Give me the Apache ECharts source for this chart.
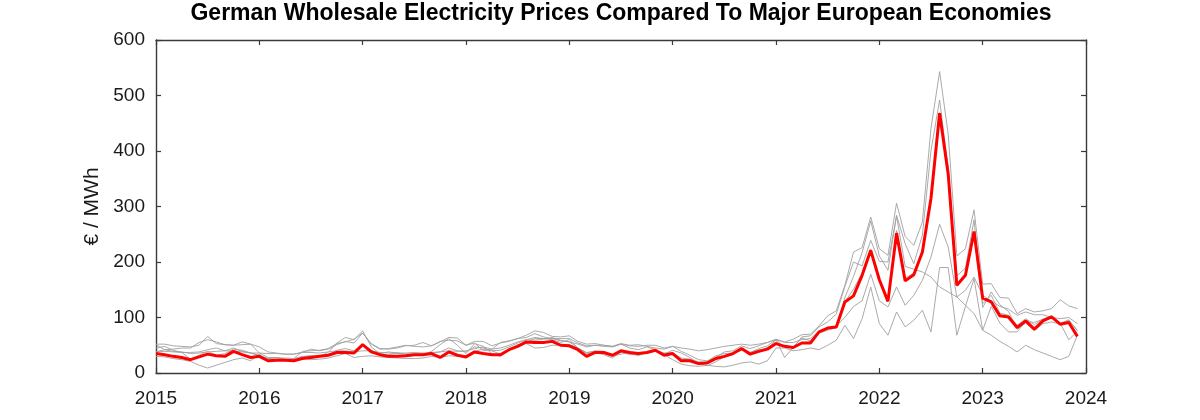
<!DOCTYPE html>
<html>
<head>
<meta charset="utf-8">
<script src="https://cdn.jsdelivr.net/npm/echarts@6/dist/echarts.min.js"></script>
<style>
  html, body { margin: 0; padding: 0; background: #fff; }
  #chart { width: 1200px; height: 420px; }
</style>
</head>
<body>
<div id="chart"></div>
<script>
// ---- Data (monthly averages, EUR/MWh, Jan 2015 .. Dec 2023) ----
const firstYear = 2015;
const lastYear = 2024;
const yearTicks = [2015, 2016, 2017, 2018, 2019, 2020, 2021, 2022, 2023, 2024];

const germany = [
  35,33,30,28,24,29,34,31,30,39,33,28,
  30,22,23,23,22,26,28,30,32,37,37,36,
  51,38,33,30,30,31,33,33,35,28,38,32,
  29,38,35,33,33,42,48,56,55,55,57,50,
  49,42,30,37,37,32,40,37,35,37,41,32,
  35,22,22,17,18,26,30,35,44,34,39,43,
  53,48,46,54,54,74,81,83,128,139,176,221,
  168,129,252,166,177,218,315,468,358,158,176,255,
  135,128,103,101,82,94,79,94,101,88,91,66
];
const italy = [
  52,52,49,48,47,50,66,53,51,50,56,52,
  47,38,36,34,34,37,43,40,43,51,57,54,
  72,53,44,43,45,49,50,55,49,56,64,63,
  50,57,57,49,54,57,62,68,76,73,66,65,
  67,57,52,53,50,48,53,50,51,48,45,43,
  48,39,32,24,22,28,38,40,49,44,49,55,
  61,56,61,69,70,85,103,112,158,218,226,281,
  224,212,306,246,230,272,441,543,430,211,224,294,
  160,161,136,135,107,116,110,112,116,132,121,116
];
const france = [
  45,48,41,37,25,32,39,32,35,43,41,36,
  32,26,28,25,23,29,32,30,37,54,64,60,
  76,47,35,38,36,34,34,33,39,51,62,50,
  35,53,48,35,30,41,50,55,62,62,60,55,
  60,45,35,37,33,27,38,33,33,36,40,35,
  37,25,24,17,13,20,29,33,44,37,44,49,
  60,46,47,63,58,72,77,82,136,174,217,274,
  211,185,284,233,197,248,401,492,367,175,189,276,
  118,146,123,111,79,90,76,89,92,88,96,76
];
const netherlands = [
  38,42,39,38,35,36,38,39,40,45,39,36,
  31,26,27,27,26,30,30,29,33,41,44,40,
  52,41,34,33,36,34,34,34,37,38,45,40,
  38,47,45,40,41,47,54,60,59,61,64,59,
  56,45,36,40,39,31,39,38,36,37,41,36,
  36,27,25,20,19,25,29,35,44,35,40,46,
  54,48,46,54,56,74,80,84,128,151,180,223,
  167,133,257,171,180,217,312,469,370,158,180,250,
  125,140,108,104,86,98,87,97,102,90,95,77
];
const spain = [
  51,42,43,45,45,55,60,56,51,50,51,52,
  36,28,28,24,26,39,40,41,44,53,56,61,
  72,52,43,44,47,50,48,47,49,57,59,58,
  50,54,40,43,55,58,62,64,71,65,62,62,
  62,54,49,50,48,47,52,45,42,47,42,34,
  41,36,28,17,21,31,35,36,41,37,42,42,
  60,28,46,65,67,83,92,106,156,200,193,239,
  201,200,283,192,187,182,173,155,146,137,122,107,
  77,120,90,74,74,93,91,97,103,90,60,75
];
const nordic = [
  30,29,26,24,21,14,9,14,19,24,27,22,
  34,20,23,23,23,27,24,25,27,31,35,28,
  30,31,29,28,27,26,26,27,30,28,31,30,
  31,39,43,40,34,43,51,53,45,46,50,50,
  51,45,37,39,37,30,34,37,31,38,40,33,
  24,16,13,12,14,12,11,14,18,20,16,22,
  45,45,40,42,45,42,50,59,86,62,98,155,
  89,68,110,83,95,113,74,190,190,68,120,170,
  77,68,57,48,38,50,42,36,30,24,30,68
];
const poland = [
  38,39,38,37,37,38,42,45,40,40,38,36,
  36,35,35,34,34,37,37,36,38,40,40,38,
  40,40,37,36,36,36,37,36,36,38,40,39,
  40,44,47,43,45,50,56,60,64,62,62,58,
  56,52,47,50,50,48,52,49,48,50,50,45,
  48,45,43,40,42,45,48,50,52,50,52,55,
  60,55,55,60,62,75,80,85,100,120,130,178,
  130,119,155,122,140,167,209,268,227,137,149,173,
  140,130,120,115,104,110,105,105,100,98,100,89
];

const others = [
  { name: 'Italy', data: italy },
  { name: 'France', data: france },
  { name: 'Netherlands', data: netherlands },
  { name: 'Spain', data: spain },
  { name: 'Nordic', data: nordic },
  { name: 'Poland', data: poland }
];

// month index -> decimal year (Jan = year.0)
const toPairs = arr => arr.map((v, i) => [firstYear + Math.floor(i / 12) + (i % 12) / 12, v]);

const FONT = 'Liberation Sans, Arial, Helvetica, sans-serif';
const AX = '#3a3a3a';

const xBase = {
  type: 'value', min: firstYear, max: lastYear, interval: 1,
  axisLine: { show: true, onZero: false, lineStyle: { color: AX, width: 1.4 } },
  axisTick: { show: true, inside: true, length: 5, lineStyle: { color: AX, width: 1.2 } },
  splitLine: { show: false }
};
const yBase = {
  type: 'value', min: 0, max: 600, interval: 100,
  axisLine: { show: true, onZero: false, lineStyle: { color: AX, width: 1.4 } },
  axisTick: { show: true, inside: true, length: 5, lineStyle: { color: AX, width: 1.2 } },
  splitLine: { show: false }
};

const series = others.map(o => ({
  name: o.name, type: 'line', data: toPairs(o.data),
  showSymbol: false, symbol: 'none',
  lineStyle: { color: '#a0a0a0', width: 0.9 },
  z: 2, silent: true
}));
series.push({
  name: 'Germany', type: 'line', data: toPairs(germany),
  showSymbol: false, symbol: 'none',
  lineStyle: { color: '#ff0000', width: 3 },
  z: 5
});

const chart = echarts.init(document.getElementById('chart'), null, { renderer: 'canvas' });
chart.setOption({
  animation: false,
  backgroundColor: '#ffffff',
  title: {
    text: 'German Wholesale Electricity Prices Compared To Major European Economies',
    left: 621, top: 2, textAlign: 'center', padding: 0,
    textStyle: { fontFamily: FONT, fontWeight: 'bold', fontSize: 23, color: '#000' }
  },
  grid: { left: 156, right: 114, top: 40, bottom: 47, containLabel: false },
  xAxis: [
    Object.assign({}, xBase, {
      position: 'bottom',
      axisLabel: { show: true, fontFamily: FONT, fontSize: 19, color: '#1a1a1a', margin: 16,
        formatter: v => (yearTicks.indexOf(v) >= 0 ? String(v) : '') }
    }),
    Object.assign({}, xBase, { position: 'top', axisLabel: { show: false } })
  ],
  yAxis: [
    Object.assign({}, yBase, {
      position: 'left',
      name: '€ / MWh', nameLocation: 'middle', nameGap: 48, nameRotate: 90,
      nameTextStyle: { fontFamily: FONT, fontSize: 21, color: '#1a1a1a' },
      axisLabel: { show: true, fontFamily: FONT, fontSize: 19, color: '#1a1a1a', margin: 11 }
    }),
    Object.assign({}, yBase, { position: 'right', axisLabel: { show: false } })
  ],
  series: series
});
</script>
</body>
</html>
